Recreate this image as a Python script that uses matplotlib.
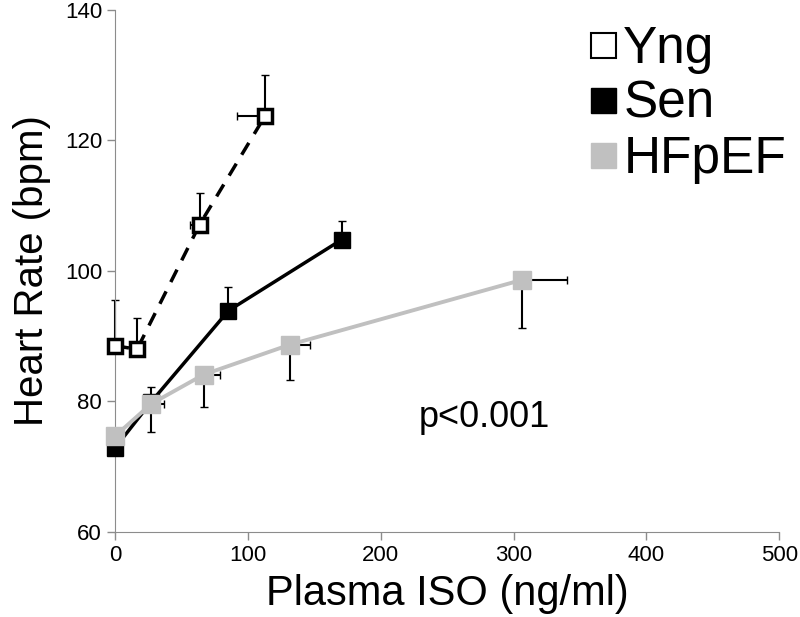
import matplotlib.pyplot as plt
from matplotlib.lines import Line2D

plt.rcParams['font.family'] = ['Liberation Sans', 'DejaVu Sans']

# Yng
yng_x = [0, 16.5, 63.6, 113]
yng_y = [88.5, 88.0, 107.1, 123.8]
yng_yerr_up = [7.0, 4.8, 4.9, 6.2]
yng_xerr_left = [0, 0, 7.5, 21]
yng_xerr_right = [5, 0, 0, 0]

# Sen
sen_x = [0, 27, 85.3, 170.7]
sen_y = [72.9, 79.9, 93.9, 104.8]
sen_yerr_up = [0, 2.3, 3.6, 2.9]

# HFpEF
hf_x = [0, 27, 66.6, 131.7, 306]
hf_y = [74.7, 79.6, 84.1, 88.7, 98.6]
hf_yerr_down = [0, 4.3, 4.9, 5.4, 7.3]
hf_xerr_right = [0, 10, 12, 15, 34.5]

gray = '#c0c0c0'
axis_gray = '#8c8c8c'

fig = plt.figure(figsize=(8, 6.17), dpi=100)
ax = fig.add_axes([0.144, 0.138, 0.830, 0.846])

# error bars (one-sided, black)
eb_kw = dict(fmt='none', ecolor='black', elinewidth=1.5, capsize=3, zorder=2)
for eb in [
    ax.errorbar(yng_x, yng_y, yerr=[[0] * 4, yng_yerr_up],
                xerr=[yng_xerr_left, yng_xerr_right], **eb_kw),
    ax.errorbar(sen_x, sen_y, yerr=[[0] * 4, sen_yerr_up], **eb_kw),
    ax.errorbar(hf_x, hf_y, yerr=[hf_yerr_down, [0] * 5],
                xerr=[[0] * 5, hf_xerr_right], **eb_kw),
]:
    for child in eb.get_children():
        child.set_clip_on(False)

ax.plot(yng_x, yng_y, '--', color='black', lw=2.5, dashes=(4, 3),
        marker='s', ms=10, mfc='white', mec='black', mew=2.5, zorder=3,
        clip_on=False)
ax.plot(sen_x, sen_y, '-', color='black', lw=2.5,
        marker='s', ms=12, mfc='black', mec='black', zorder=3, clip_on=False)
ax.plot(hf_x, hf_y, '-', color=gray, lw=2.8,
        marker='s', ms=13, mfc=gray, mec=gray, zorder=4, clip_on=False)

ax.text(278, 77.5, 'p<0.001', fontsize=26, ha='center', va='center')

ax.set_xlim(0, 500)
ax.set_ylim(60, 140)
ax.set_xticks([0, 100, 200, 300, 400, 500])
ax.set_yticks([60, 80, 100, 120, 140])
ax.set_xlabel('Plasma ISO (ng/ml)', fontsize=30, labelpad=6)
ax.set_ylabel('Heart Rate (bpm)', fontsize=29, labelpad=10)
ax.tick_params(labelsize=16, color=axis_gray, length=6, width=1)
for lbl in ax.get_xticklabels() + ax.get_yticklabels():
    lbl.set_family(['Liberation Sans Narrow', 'Liberation Sans'])
for s in ['top', 'right']:
    ax.spines[s].set_visible(False)
for s in ['left', 'bottom']:
    ax.spines[s].set_color(axis_gray)

handles = [
    Line2D([], [], ls='none', marker='s', ms=18, mfc='white', mec='black', mew=1.5),
    Line2D([], [], ls='none', marker='s', ms=18, mfc='black', mec='black'),
    Line2D([], [], ls='none', marker='s', ms=18, mfc=gray, mec=gray),
]
ax.legend(handles, ['Yng', 'Sen', 'HFpEF'], loc='upper right',
          bbox_to_anchor=(1.08, 1.06), frameon=False, fontsize=37,
          handletextpad=0.05, labelspacing=0.12, handlelength=0.7)

fig.savefig('out.png', dpi=100)
